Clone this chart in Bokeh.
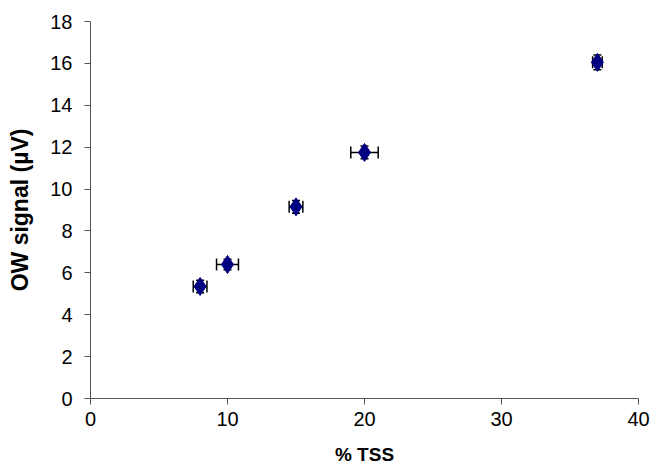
from bokeh.plotting import figure
from bokeh.models import ColumnDataSource, Whisker, TeeHead, Range1d, SingleIntervalTicker
from bokeh.embed import file_html
from bokeh.resources import INLINE

tss = [8, 10, 15, 20, 37]
signal = [5.35, 6.4, 9.15, 11.75, 16.05]
tss_err = [0.5, 0.8, 0.5, 1.0, 0.35]
signal_err = [0.3, 0.25, 0.3, 0.3, 0.35]

src = ColumnDataSource(dict(
    x=tss, y=signal,
    xl=[a - e for a, e in zip(tss, tss_err)], xu=[a + e for a, e in zip(tss, tss_err)],
    yl=[a - e for a, e in zip(signal, signal_err)], yu=[a + e for a, e in zip(signal, signal_err)],
))

p = figure(width=663, height=468, output_backend="svg", toolbar_location=None,
           x_range=Range1d(0, 40), y_range=Range1d(0, 18),
           min_border_left=90, min_border_right=25, min_border_top=21, min_border_bottom=70)
p.outline_line_color = None
p.xgrid.visible = False
p.ygrid.visible = False
p.background_fill_color = "white"

p.xaxis.ticker = SingleIntervalTicker(interval=10, num_minor_ticks=0)
p.yaxis.ticker = SingleIntervalTicker(interval=2, num_minor_ticks=0)
for ax in (p.xaxis, p.yaxis):
    ax.axis_line_color = "#555555"
    ax.major_tick_line_color = "#555555"
    ax.major_tick_out = 6
    ax.major_tick_in = 0
    ax.minor_tick_line_color = None
    ax.major_label_text_font = "Liberation Sans"
    ax.major_label_text_font_size = "20px"
    ax.major_label_text_color = "black"
    ax.axis_label_text_font = "Liberation Sans"
    ax.axis_label_text_font_style = "bold"
    ax.axis_label_text_color = "black"
p.xaxis.axis_label = "% TSS"
p.yaxis.axis_label = "OW signal (µV)"
p.xaxis.axis_label_text_font_size = "19px"
p.yaxis.axis_label_text_font_size = "23px"
p.xaxis.major_label_standoff = 7
p.yaxis.major_label_standoff = 12
p.xaxis.axis_label_standoff = 15
p.yaxis.axis_label_standoff = 14

p.add_layout(Whisker(source=src, base="x", lower="yl", upper="yu", dimension="height",
                     line_color="black", line_width=1.5,
                     upper_head=TeeHead(size=8, line_color="black", line_width=1.5),
                     lower_head=TeeHead(size=8, line_color="black", line_width=1.5)))
p.add_layout(Whisker(source=src, base="y", lower="xl", upper="xu", dimension="width",
                     line_color="black", line_width=1.5,
                     upper_head=TeeHead(size=12, line_color="black", line_width=1.5),
                     lower_head=TeeHead(size=12, line_color="black", line_width=1.5)))

p.scatter("x", "y", source=src, marker="diamond", size=18, fill_color="#000080",
          line_color="#000080", line_width=1)

open("out.html", "w").write(file_html(p, INLINE))
